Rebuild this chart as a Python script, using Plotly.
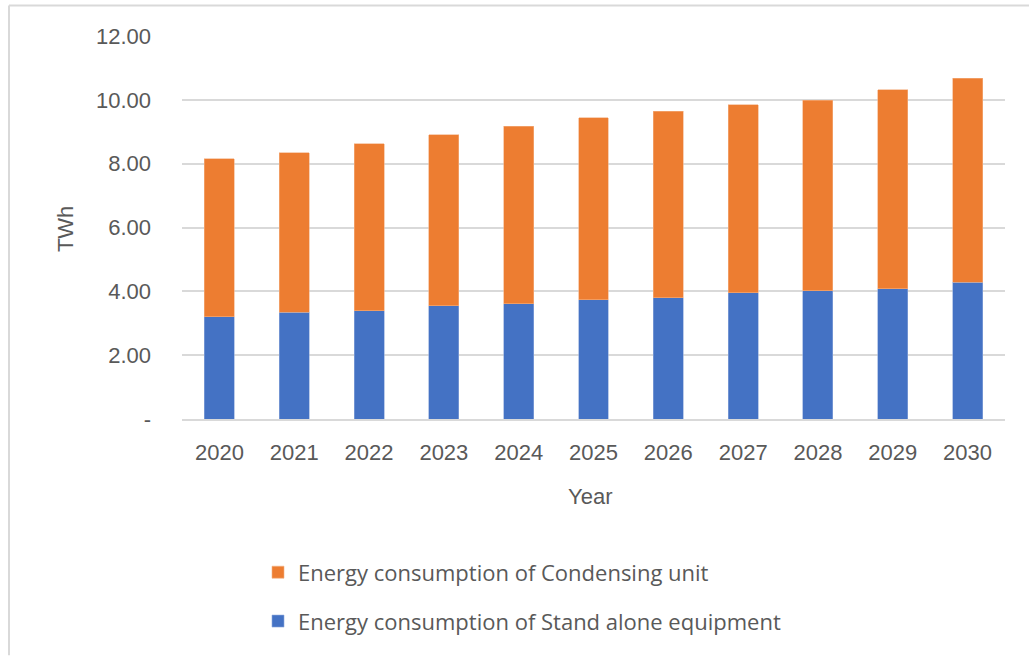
import plotly.graph_objects as go

# Annual electricity use, TWh
years = ["2020", "2021", "2022", "2023", "2024", "2025", "2026", "2027", "2028", "2029", "2030"]
stand_alone = [3.21, 3.34, 3.39, 3.55, 3.61, 3.74, 3.80, 3.95, 4.02, 4.08, 4.29]
condensing = [4.95, 5.01, 5.23, 5.36, 5.56, 5.70, 5.84, 5.90, 5.96, 6.24, 6.38]

y_tickvals = [0, 2, 4, 6, 8, 10, 12]
y_ticktext = ["-", "2.00", "4.00", "6.00", "8.00", "10.00", "12.00"]

TEXT = "#595959"
GRID = "#d9d9d9"
BLUE = "#4472C4"
ORANGE = "#ED7D31"
TICK_FONT = dict(family="Liberation Sans Narrow, Liberation Sans, Arial", size=22, color=TEXT)
LEG_FONT = dict(family="Open Sans, Liberation Sans, Arial", size=22, color=TEXT)

fig = go.Figure()
fig.add_trace(go.Bar(
    x=years, y=stand_alone, name="Energy consumption of Stand alone equipment",
    marker=dict(color=BLUE, line=dict(color="#8faadc", width=0.6)),
    legend="legend2",
))
fig.add_trace(go.Bar(
    x=years, y=condensing, name="Energy consumption of Condensing unit",
    marker=dict(color=ORANGE, line=dict(color="#f4b183", width=0.6)),
    legend="legend",
))

# plot area geometry in pixels (used to place frame lines and labels)
W, H = 1029, 656
L, R, T, B = 182, 24, 35.5, 236.7
pw, ph = W - L - R, H - T - B


def px_x(x):
    return (x - L) / pw


def px_y(y):
    return (H - B - y) / ph


fig.update_layout(
    width=W, height=H,
    margin=dict(l=L, r=R, t=T, b=B, autoexpand=False),
    paper_bgcolor="white", plot_bgcolor="white",
    barmode="stack", bargap=0.6,
    hovermode=False,
    showlegend=True,
    legend=dict(x=px_x(258), y=px_y(573), xanchor="left", yanchor="middle",
                font=LEG_FONT, bgcolor="rgba(0,0,0,0)"),
    legend2=dict(x=px_x(258), y=px_y(622), xanchor="left", yanchor="middle",
                 font=LEG_FONT, bgcolor="rgba(0,0,0,0)"),
    xaxis=dict(
        tickfont=TICK_FONT, showgrid=False, showline=True, linecolor=GRID, linewidth=1.5,
        ticks="", ticklabelstandoff=13, automargin=False,
    ),
    yaxis=dict(
        range=[0, 12], tickvals=y_tickvals, ticktext=y_ticktext, tickfont=TICK_FONT,
        showgrid=True, gridcolor=GRID, gridwidth=1.5, zeroline=False,
        showline=False, ticks="", ticklabelstandoff=30, automargin=False,
    ),
    annotations=[
        dict(text="TWh", x=px_x(65), y=px_y(229), xref="paper", yref="paper",
             textangle=-90, showarrow=False, font=TICK_FONT, xanchor="center", yanchor="middle"),
        dict(text="Year", x=px_x(590), y=px_y(497), xref="paper", yref="paper",
             showarrow=False, font=TICK_FONT, xanchor="center", yanchor="middle"),
    ],
    shapes=[
        dict(type="line", xref="paper", yref="paper", x0=px_x(9), x1=px_x(1029),
             y0=px_y(5), y1=px_y(5), line=dict(color=GRID, width=2)),
        dict(type="line", xref="paper", yref="paper", x0=px_x(9), x1=px_x(9),
             y0=px_y(5), y1=px_y(656), line=dict(color=GRID, width=2)),
    ],
)

fig.write_html("out.html")
